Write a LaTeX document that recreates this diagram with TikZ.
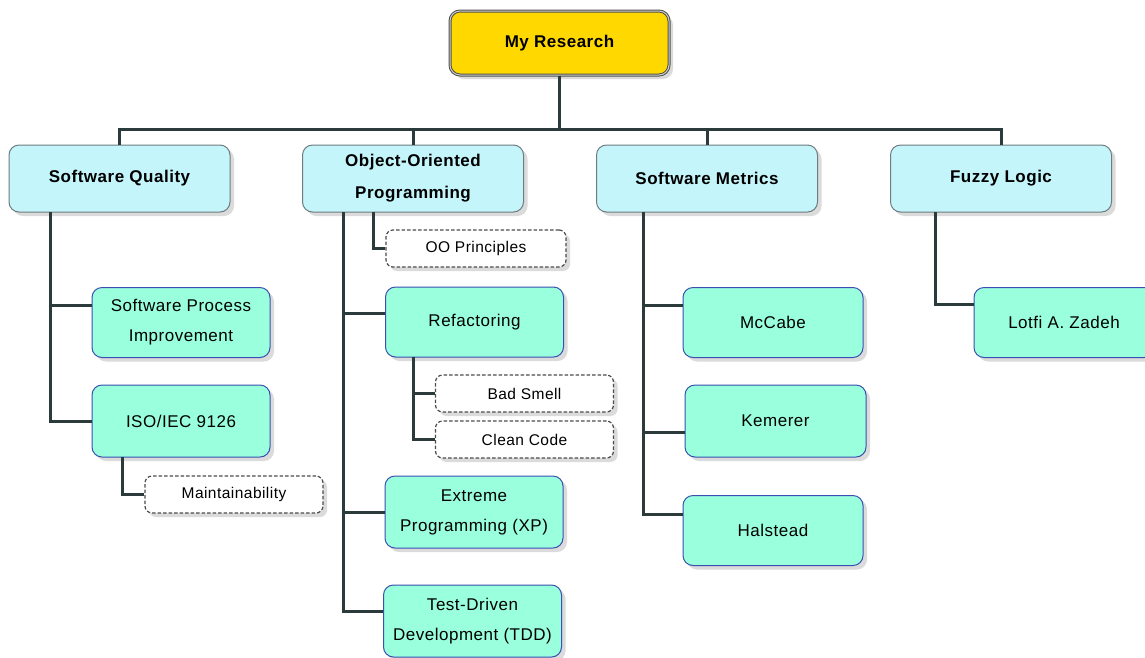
\documentclass[tikz,border=0pt]{standalone}
\usepackage{fontspec}
\setmainfont{Liberation Sans}[LetterSpace=3]
\usetikzlibrary{shadows}

\definecolor{wire}{HTML}{2B3A3A}
\definecolor{topfill}{HTML}{C3F5FA}
\definecolor{topdraw}{HTML}{6E7B80}
\definecolor{leaffill}{HTML}{99FFDD}
\definecolor{leafdraw}{HTML}{3A4FB0}
\definecolor{rootfill}{HTML}{FFD800}
\definecolor{rootdraw}{HTML}{50524A}

\tikzset{
  base/.style={rounded corners=10pt, align=center, inner sep=0pt,
    drop shadow={shadow xshift=4pt, shadow yshift=-4pt, fill=black!28}},
  rootbox/.style={base, fill=rootfill, draw=rootdraw, line width=1pt,
    double=black!20, double distance=1pt,
    minimum width=219pt, minimum height=64pt,
    font=\fontsize{17}{30}\selectfont\bfseries},
  areabox/.style={base, fill=topfill, draw=topdraw, line width=1pt,
    minimum width=221pt, minimum height=67pt,
    font=\fontsize{17}{32}\selectfont\bfseries},
  leafbox/.style={base, fill=leaffill, draw=leafdraw, line width=1pt,
    minimum width=178pt, minimum height=70pt,
    font=\fontsize{17}{30}\selectfont},
  notebox/.style={base, rounded corners=7pt, fill=white, draw=black!70,
    line width=1.2pt, dash pattern=on 3.5pt off 2pt,
    minimum width=178pt, minimum height=37pt,
    font=\fontsize{15.5}{20}\selectfont},
  wire/.style={draw=wire, line width=3pt}
}

\begin{document}
\begin{tikzpicture}[x=1pt, y=-1pt]
\clip (0,0) rectangle (1145,657);
\fill[white] (0,0) rectangle (1145,657);

% root and the four research areas
\node[rootbox] (res) at (559.5,43) {My Research};
\node[areabox] (sq)  at (119.5,178.5) {Software Quality};
\node[areabox] (oop) at (413,178.5) {Object-Oriented\\Programming};
\node[areabox] (sm)  at (707,178.5) {Software Metrics};
\node[areabox] (fl)  at (1001,178.5) {Fuzzy Logic};

% software quality
\node[leafbox] (spi)   at (181,322.5) {Software Process\\Improvement};
\node[leafbox, minimum height=72pt] (iso) at (181,421) {ISO/IEC 9126};
\node[notebox] (maint) at (234,494.5) {Maintainability};

% object-oriented programming
\node[notebox, minimum width=180pt] (oopr) at (476,248.5) {OO Principles};
\node[leafbox] (ref)   at (474.5,322) {Refactoring};
\node[notebox] (bad)   at (524.5,393.5) {Bad Smell};
\node[notebox] (clean) at (524.5,439.5) {Clean Code};
\node[leafbox, minimum height=72pt] (xp)  at (474,512) {Extreme\\Programming (XP)};
\node[leafbox, minimum height=72pt] (tdd) at (472.5,621) {Test-Driven\\Development (TDD)};

% software metrics
\node[leafbox, minimum width=180pt] (mcc) at (773,322.5) {McCabe};
\node[leafbox, minimum width=181pt, minimum height=72pt] (kem) at (775.5,421) {Kemerer};
\node[leafbox, minimum width=180pt] (hal) at (773,530.5) {Halstead};

% fuzzy logic
\node[leafbox, minimum width=180pt] (lot) at (1064,322.5) {Lotfi A. Zadeh};

% bus below the root
\coordinate (bus) at (0,129);
\draw[wire] (res.south) -- (res.south |- bus);
\draw[wire] (sq.north) -- (sq.north |- bus) -- (fl.north |- bus) -- (fl.north);
\draw[wire] (oop.north) -- (oop.north |- bus);
\draw[wire] (sm.north) -- (sm.north |- bus);

% software quality branches
\coordinate (sqt) at (50,212);
\coordinate (spiA) at ([yshift=17pt]spi.west);
\draw[wire] (sqt) |- (iso.west);
\draw[wire] (sqt |- spiA) -- (spiA);
\coordinate (isoB) at (122,457);
\draw[wire] (isoB) |- (maint.west);

% object-oriented programming branches
\coordinate (oopt) at (343,212);
\coordinate (refA) at ([yshift=9pt]ref.west);
\coordinate (tddA) at ([yshift=10pt]tdd.west);
\draw[wire] (oopt) |- (tddA);
\draw[wire] (oopt |- refA) -- (refA);
\draw[wire] (oopt |- xp.west) -- (xp.west);
\coordinate (oopB) at (373,212);
\draw[wire] (oopB) |- (oopr.west);
\coordinate (refB) at (413,357);
\draw[wire] (refB) |- (clean.west);
\draw[wire] (refB |- bad.west) -- (bad.west);

% software metrics branches
\coordinate (smt) at (643,212);
\coordinate (mccA) at ([yshift=17.5pt]mcc.west);
\coordinate (kemA) at ([yshift=-11pt]kem.west);
\coordinate (halA) at ([yshift=16.5pt]hal.west);
\draw[wire] (smt) |- (halA);
\draw[wire] (smt |- mccA) -- (mccA);
\draw[wire] (smt |- kemA) -- (kemA);

% fuzzy logic branch
\coordinate (flt) at (935,212);
\coordinate (lotA) at ([yshift=18pt]lot.west);
\draw[wire] (flt) |- (lotA);
\end{tikzpicture}
\end{document}
